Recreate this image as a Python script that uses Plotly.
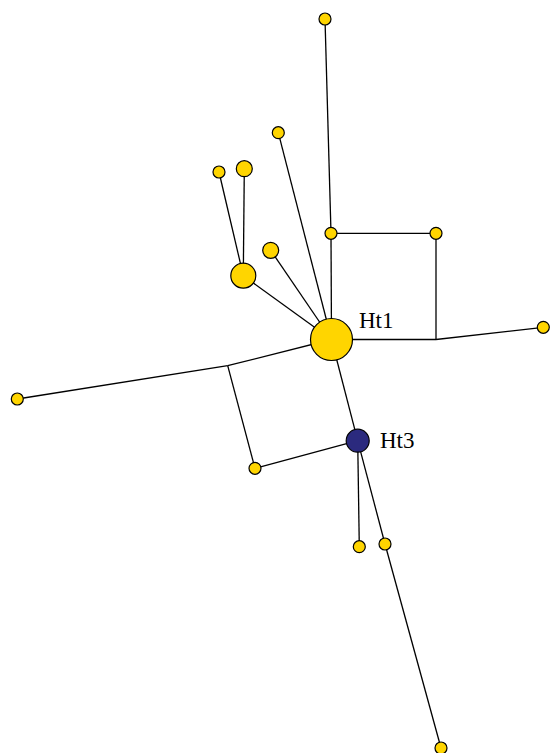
import plotly.graph_objects as go

# Node data (pixel-space layout of the haplotype network)
node_names = ["Ht1", "Ht3", "n_top", "n_a", "n_b", "n_c", "n_d", "n_e", "n_f", "n_g",
              "n_right", "n_left", "n_h", "n_i", "n_j", "n_bottom"]
node_x = [331.5, 357.7, 325, 278.3, 219, 244.3, 270.7, 243.3, 331, 436, 543.3, 17.3, 255, 359.3, 385, 441]
node_y = [339.5, 440.7, 19, 132.7, 172, 168.7, 250.3, 275.7, 233.3, 233.3, 327.3, 399, 468.3, 546.7, 544, 748]
node_size = [42, 23, 12, 12, 12, 16, 16, 25, 12, 12, 12, 12, 12, 12, 12, 12]
node_color = ["#FFD500", "#2B2A7E"] + ["#FFD500"] * 14
node_labels = ["Ht1", "Ht3"] + [""] * 14

# Median vectors (unlabelled junctions)
junction_names = ["m1", "m2"]
junction_x = [436, 227.7]
junction_y = [339.5, 365.7]

edges = [
    ("Ht1", "n_f"), ("n_f", "n_top"), ("n_f", "n_g"), ("n_g", "m1"), ("Ht1", "m1"),
    ("m1", "n_right"), ("Ht1", "n_a"), ("Ht1", "n_d"), ("Ht1", "n_e"),
    ("n_e", "n_b"), ("n_e", "n_c"), ("Ht1", "m2"), ("m2", "n_left"), ("m2", "n_h"),
    ("n_h", "Ht3"), ("Ht1", "Ht3"), ("Ht3", "n_i"), ("Ht3", "n_j"), ("n_j", "n_bottom"),
]

pos = {n: (x, y) for n, x, y in zip(node_names, node_x, node_y)}
pos.update({n: (x, y) for n, x, y in zip(junction_names, junction_x, junction_y)})

ex, ey = [], []
for a, b in edges:
    ex += [pos[a][0], pos[b][0], None]
    ey += [pos[a][1], pos[b][1], None]

fig = go.Figure()
fig.add_trace(go.Scatter(x=ex, y=ey, mode="lines", line=dict(color="black", width=1.3),
                         hoverinfo="skip", showlegend=False, cliponaxis=False))
fig.add_trace(go.Scatter(x=node_x, y=node_y, mode="markers",
                         marker=dict(size=node_size, color=node_color,
                                     line=dict(color="black", width=1.2), opacity=1),
                         text=node_names, hoverinfo="text", showlegend=False,
                         cliponaxis=False))

label_dx = [25, 20]
label_dy = [-19, 0]
for i, lab in enumerate(node_labels):
    if lab:
        fig.add_annotation(x=node_x[i] + label_dx[i], y=node_y[i] + label_dy[i],
                           text=lab, showarrow=False, xanchor="left", yanchor="middle",
                           font=dict(family="Liberation Serif, Times New Roman, serif",
                                     size=23, color="black"))

fig.update_layout(
    width=551, height=753,
    margin=dict(l=0, r=0, t=0, b=0),
    paper_bgcolor="white", plot_bgcolor="white",
    xaxis=dict(range=[0, 551], visible=False, fixedrange=True),
    yaxis=dict(range=[753, 0], visible=False, fixedrange=True),
)

fig.write_html("out.html",
               config={"displayModeBar": False},
               post_script="document.body.style.margin='0';document.body.style.overflow='hidden';")
